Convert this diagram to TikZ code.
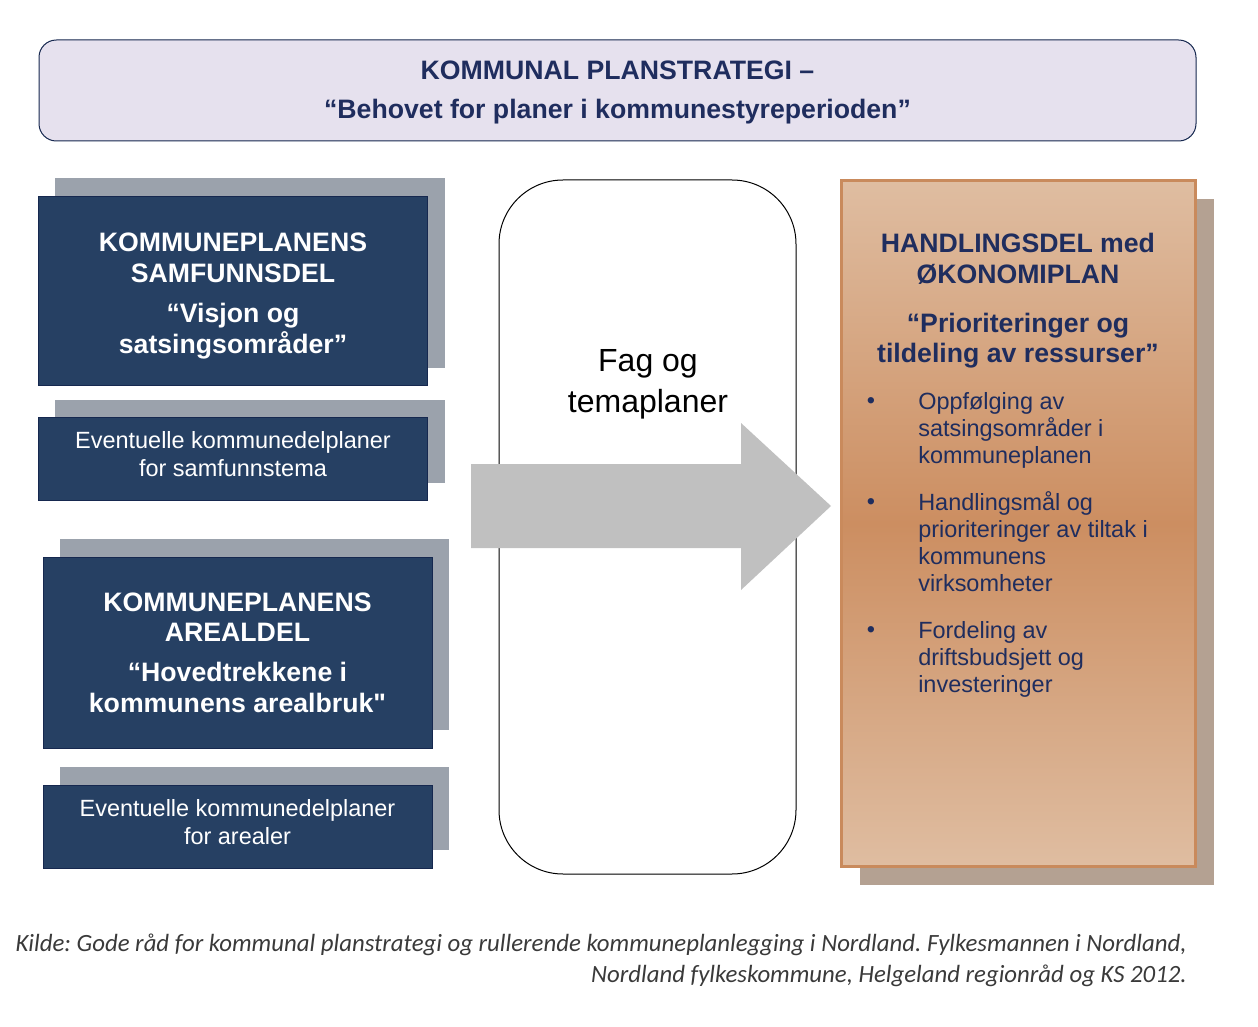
\documentclass[tikz,border=0pt]{standalone}
\usepackage{fontspec}
\setmainfont{Liberation Sans}[Ligatures=TeXOff]
\newfontfamily\kildefont{Carlito}
\usetikzlibrary{positioning,shadows}

\definecolor{navybox}{HTML}{264063}
\definecolor{navyline}{HTML}{16284F}
\definecolor{shadowgray}{HTML}{9BA2AC}
\definecolor{titlefill}{HTML}{E6E1EE}
\definecolor{titletext}{HTML}{1F2D5E}
\definecolor{arrowgray}{HTML}{C0C0C0}
\definecolor{copperline}{HTML}{C98A5C}
\definecolor{copperlight}{HTML}{DFBDA1}
\definecolor{copperdark}{HTML}{CC8E61}
\definecolor{coppershadow}{HTML}{B4A192}
\definecolor{kildetext}{HTML}{3A3A3A}

\begin{document}
\begin{tikzpicture}[x=0.75pt, y=-0.75pt,
    planbox/.style={rectangle, draw=navyline, line width=0.75pt, fill=navybox, text=white, align=center, minimum width=292pt, general shadow={fill=shadowgray, shadow xshift=12.75pt, shadow yshift=13.5pt}},
    bigbox/.style={planbox, minimum height=142pt, font=\fontsize{20}{23}\selectfont\bfseries},
    smallbox/.style={planbox, minimum height=62.25pt, font=\fontsize{17.6}{21}\selectfont},
    bulletdot/.style={text=titletext, inner sep=0pt, font=\fontsize{17.6}{20}\selectfont},
    bullettext/.style={anchor=north west, inner sep=0pt, align=left, text=titletext, font=\fontsize{17.6}{20.25}\selectfont}
]
\useasboundingbox (0,0) rectangle (1258,1027);

% title
\node[rectangle, rounded corners=13pt, draw=navyline, line width=0.75pt, fill=titlefill, minimum width=867.75pt, minimum height=75.75pt, text=titletext, font=\fontsize{20}{29}\selectfont\bfseries, align=center] (title) at (617.5,90.5) {\mbox{}\\[-11.7pt]KOMMUNAL PLANSTRATEGI –\\“Behovet for planer i kommunestyreperioden”};

% left column
\node[bigbox] (samf) at (233,291) {\mbox{}\\[-1.5pt]KOMMUNEPLANENS\\SAMFUNNSDEL\\[7pt]“Visjon og\\satsingsområder”};
\node[smallbox, below=23.25pt of samf] (samfdel) {Eventuelle kommunedelplaner\\for samfunnstema\\[-13.5pt]\mbox{}};
\node[bigbox, minimum width=291.75pt, minimum height=143.25pt] (areal) at (237.5,652.5) {KOMMUNEPLANENS\\AREALDEL\\[7pt]“Hovedtrekkene i\\kommunens arealbruk"};
\node[smallbox, minimum width=291.75pt, below=27pt of areal] (arealdel) {Eventuelle kommunedelplaner\\for arealer\\[-13.5pt]\mbox{}};

% middle
\node[rectangle, rounded corners=48pt, draw=black, line width=0.75pt, fill=white, minimum width=222.75pt, minimum height=520.5pt] (fag) at (647.5,527) {};
\node[font=\fontsize{24}{31}\selectfont, align=center] (fagtekst) at (648,384.5) {Fag og\\temaplaner};
\fill[arrowgray] (471,464) -- (741,464) -- (741,423) -- (831,506) -- (741,590) -- (741,548) -- (471,548) -- cycle;

% right box
\node[rectangle, draw=copperline, line width=2.25pt, top color=copperlight, bottom color=copperlight, middle color=copperdark, minimum width=265.5pt, minimum height=514.5pt, general shadow={fill=coppershadow, shadow xshift=14pt, shadow yshift=-14pt}] (handling) at (1018.5,523.5) {};
\node[text=titletext, font=\fontsize{20}{23}\selectfont\bfseries, align=center] (handtitle) at (1018,301) {HANDLINGSDEL med\\ØKONOMIPLAN\\[13.5pt]“Prioriteringer og\\tildeling av ressurser”};
\node[bulletdot] (b1) at (871,403) {•};
\node[bullettext] (p1) at (918,392) {Oppfølging av\\satsingsområder i\\kommuneplanen};
\node[bulletdot] (b2) at (871,504) {•};
\node[bullettext] (p2) at (918,491) {Handlingsmål og\\prioriteringer av tiltak i\\kommunens\\virksomheter};
\node[bulletdot] (b3) at (871,632) {•};
\node[bullettext] (p3) at (918,621) {Fordeling av\\driftsbudsjett og\\investeringer};

% source
\node[anchor=east, align=right, inner sep=0pt, text=kildetext, font=\kildefont\itshape\fontsize{18.6}{23.25}\selectfont\frenchspacing] (kilde) at (1187,960.5) {Kilde: Gode råd for kommunal planstrategi og rullerende kommuneplanlegging i Nordland. Fylkesmannen i Nordland,\\Nordland fylkeskommune, Helgeland regionråd og KS 2012.};
\end{tikzpicture}
\end{document}
